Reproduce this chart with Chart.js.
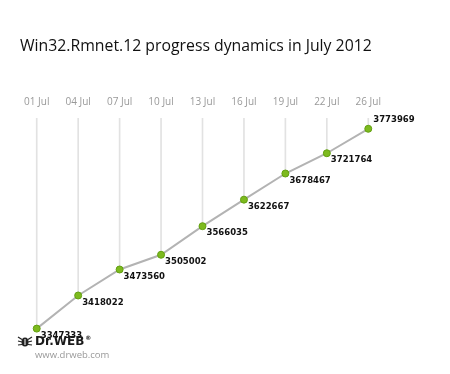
<!DOCTYPE html>
<html>
<head>
<meta charset="utf-8">
<script src="https://cdn.jsdelivr.net/npm/chart.js@4"></script>
<style>
  html, body { margin: 0; padding: 0; background: #fff; }
  #wrap { width: 450px; height: 374px; position: relative; }
</style>
</head>
<body>
<div id="wrap"><canvas id="rmnetChart" width="450" height="374"></canvas></div>
<script>
// Win32.Rmnet.12 infections, July 2012
const days = ['01 Jul', '04 Jul', '07 Jul', '10 Jul', '13 Jul', '16 Jul', '19 Jul', '22 Jul', '26 Jul'];
const infected = [3347333, 3418022, 3473560, 3505002, 3566035, 3622667, 3678467, 3721764, 3773969];
const yMin = 3323000;
const yMax = 3797000;

const titleText = 'Win32.Rmnet.12 progress dynamics in July 2012';

// drop lines from the top of the plot down to every point
const dropLines = infected.map(v => [v, yMax]);

// title, value labels and the logo
const decorPlugin = {
    id: 'decor',
    afterDatasetsDraw(chart) {
        const ctx = chart.ctx;
        const meta = chart.getDatasetMeta(0);
        ctx.save();
        ctx.fillStyle = '#111';
        ctx.font = 'bold 8.5px "DejaVu Sans"';
        ctx.textBaseline = 'middle';
        ctx.textAlign = 'left';
        meta.data.forEach((pt, i) => {
            const label = String(infected[i]);
            if (i === meta.data.length - 1) {
                ctx.fillText(label, pt.x + 5, pt.y - 9);
            } else {
                ctx.fillText(label, pt.x + 4, pt.y + 7);
            }
        });
        ctx.restore();
    },
    afterDraw(chart) {
        const ctx = chart.ctx;
        ctx.save();
        // title
        ctx.fillStyle = '#111';
        ctx.font = '15.8px "Open Sans"';
        ctx.textBaseline = 'middle';
        ctx.fillText(titleText, 20, 46);

        // logo: spider mark
        const cx = 25, cy = 342;
        ctx.strokeStyle = '#222';
        ctx.lineWidth = 1.2;
        for (let k = -1; k <= 1; k++) {
            ctx.beginPath();
            ctx.moveTo(cx - 3, cy + k * 2.5);
            ctx.lineTo(cx - 7, cy + k * 4 - 1);
            ctx.moveTo(cx + 3, cy + k * 2.5);
            ctx.lineTo(cx + 7, cy + k * 4 - 1);
            ctx.stroke();
        }
        ctx.fillStyle = '#222';
        ctx.beginPath();
        ctx.ellipse(cx, cy, 3.5, 4.5, 0, 0, Math.PI * 2);
        ctx.fill();
        ctx.fillStyle = '#fff';
        ctx.fillRect(cx - 0.5, cy - 3, 1, 6);

        // logo: wordmark
        ctx.fillStyle = '#1a1a1a';
        ctx.font = 'bold 12px "DejaVu Sans"';
        ctx.fillText('Dr.WEB', 35, 342);
        const w = ctx.measureText('Dr.WEB').width;
        ctx.font = 'bold 6px "DejaVu Sans"';
        ctx.fillText('®', 35 + w + 1, 338);
        ctx.fillStyle = '#999';
        ctx.font = '9.5px "Open Sans"';
        ctx.fillText('www.drweb.com', 35, 355);
        ctx.restore();
    }
};

const ctx = document.getElementById('rmnetChart').getContext('2d');
new Chart(ctx, {
    data: {
        labels: days,
        datasets: [{
            type: 'line',
            data: infected,
            borderColor: '#b3b3b3',
            borderWidth: 2,
            pointRadius: 3.5,
            pointBackgroundColor: '#7dba1e',
            pointBorderColor: '#62a010',
            pointBorderWidth: 1,
            tension: 0,
            order: 1
        }, {
            type: 'bar',
            data: dropLines,
            backgroundColor: '#e2e2e2',
            barThickness: 1,
            order: 2
        }]
    },
    options: {
        responsive: false,
        animation: false,
        layout: { padding: { left: 16, right: 61, top: 94, bottom: 34 } },
        plugins: {
            legend: { display: false },
            tooltip: { enabled: false },
            title: { display: false }
        },
        scales: {
            x: {
                position: 'top',
                offset: true,
                grid: { display: false },
                border: { display: false },
                ticks: {
                    color: '#999',
                    font: { family: '"Open Sans"', size: 10 },
                    padding: 2,
                    maxRotation: 0
                }
            },
            y: {
                display: false,
                min: yMin,
                max: yMax
            }
        }
    },
    plugins: [decorPlugin]
});
</script>
</body>
</html>
